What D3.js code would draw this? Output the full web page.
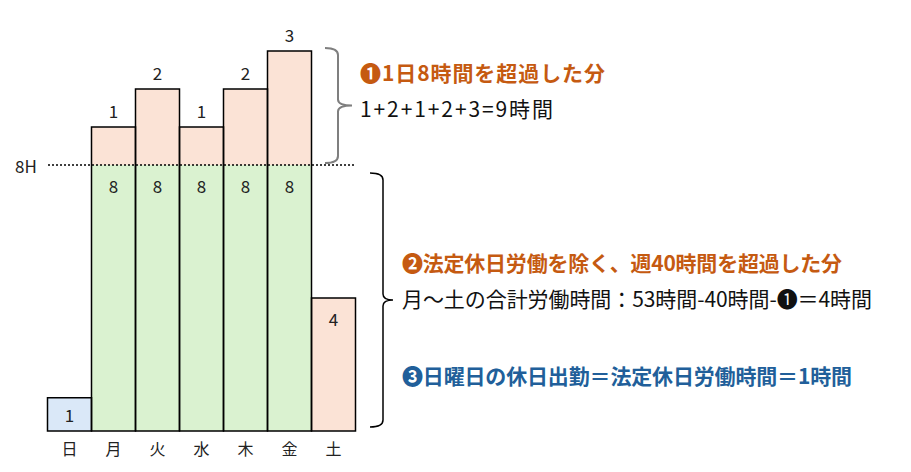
<!DOCTYPE html>
<html>
<head>
<meta charset="utf-8">
<script src="https://cdn.jsdelivr.net/npm/d3@7"></script>
<style>
  body { margin: 0; background: #fff; }
  svg { display: block; font-family: "Noto Sans CJK JP", "Noto Sans", sans-serif; }
</style>
</head>
<body>
<div id="chart"></div>
<script>
// days and hours per segment
var days = ["日", "月", "火", "水", "木", "金", "土"];
var holidayHours = [1, 0, 0, 0, 0, 0, 0];   // 法定休日労働
var regularHours = [0, 8, 8, 8, 8, 8, 0];   // 所定内 8時間
var overtimeHours = [0, 1, 2, 1, 2, 3, 4];  // 超過分
var dailyLimit = 8;
var limitLabel = "8H";

var notes1 = ["❶1日8時間を超過した分", "1+2+1+2+3=9時間"];
var notes2 = ["❷法定休日労働を除く、週40時間を超過した分", "月〜土の合計労働時間：53時間-40時間-❶＝4時間"];
var notes3 = "❸日曜日の休日出勤＝法定休日労働時間＝1時間";

var width = 911, height = 472;

var svg = d3.select("#chart").append("svg")
    .attr("width", width)
    .attr("height", height);

// x: one band per day, no gaps
var x = d3.scaleBand()
    .domain(days)
    .range([47.5, 355.5])
    .padding(0);

// y is drawn as an illustration, the part above 8H is stretched a bit
var y = d3.scaleLinear()
    .domain([0, dailyLimit, 11])
    .range([431, 165, 51]);

var table = days.map(function(d, i) {
    return { day: d, holiday: holidayHours[i], regular: regularHours[i], overtime: overtimeHours[i] };
});

var keys = ["holiday", "regular", "overtime"];
var colors = { holiday: "#dae8f8", regular: "#daf2d0", overtime: "#fbe3d6" };

var stack = d3.stack().keys(keys);
var series = stack(table);

// filled segments
var layer = svg.append("g").selectAll("g")
    .data(series)
    .enter().append("g")
    .attr("fill", function(s) { return colors[s.key]; });

layer.selectAll("rect")
    .data(function(s) { return s.map(function(p) { p.key = s.key; return p; }); })
    .enter().append("rect")
    .filter(function(p) { return p[1] > p[0]; })
    .attr("x", function(p) { return x(p.data.day); })
    .attr("width", x.bandwidth())
    .attr("y", function(p) { return y(p[1]); })
    .attr("height", function(p) { return y(p[0]) - y(p[1]); });

// outline around each whole day bar
svg.append("g").selectAll("rect")
    .data(table)
    .enter().append("rect")
    .attr("x", function(d) { return x(d.day); })
    .attr("width", x.bandwidth())
    .attr("y", function(d) { return y(d.holiday + d.regular + d.overtime); })
    .attr("height", function(d) { return y(0) - y(d.holiday + d.regular + d.overtime); })
    .attr("fill", "none")
    .attr("stroke", "#000")
    .attr("stroke-width", 1.5);

// dotted 8H line
svg.append("line")
    .attr("x1", 48)
    .attr("x2", 355)
    .attr("y1", y(dailyLimit))
    .attr("y2", y(dailyLimit))
    .attr("stroke", "#000")
    .attr("stroke-width", 1.5)
    .attr("stroke-dasharray", "2,2");

svg.append("text")
    .attr("x", 26)
    .attr("y", y(dailyLimit))
    .attr("text-anchor", "middle")
    .attr("dominant-baseline", "central")
    .attr("font-size", 17)
    .attr("fill", "#222")
    .text(limitLabel);

// value labels
var labels = [];
series.forEach(function(s) {
    s.forEach(function(p) {
        if (p[1] <= p[0]) return;
        var v = p[1] - p[0];
        var cx = x(p.data.day) + x.bandwidth() / 2;
        var cy;
        if (s.key === "overtime" && p[0] > 0) cy = y(p[1]) - 17;       // above the bar
        else if (s.key === "holiday") cy = (y(p[0]) + y(p[1])) / 2;    // centred
        else cy = y(p[1]) + 20;                                        // just inside the top
        labels.push({ x: cx, y: cy, v: v });
    });
});

svg.append("g").selectAll("text")
    .data(labels)
    .enter().append("text")
    .attr("x", function(d) { return d.x; })
    .attr("y", function(d) { return d.y; })
    .attr("text-anchor", "middle")
    .attr("dominant-baseline", "central")
    .attr("font-size", 17)
    .attr("fill", "#222")
    .text(function(d) { return d.v; });

// day axis
var xAxis = svg.append("g")
    .attr("transform", "translate(0," + y(0) + ")")
    .call(d3.axisBottom(x).tickSize(0).tickPadding(13));
xAxis.select(".domain").remove();
xAxis.selectAll("text")
    .attr("font-size", 16)
    .attr("font-family", "\"Noto Sans CJK JP\", sans-serif")
    .attr("fill", "#222");

// curly braces
function brace(xs, top, bottom, width, tip) {
    var mid = (top + bottom) / 2;
    var xv = xs + width;
    return "M" + xs + "," + top +
        " Q" + xv + "," + top + " " + xv + "," + (top + 7) +
        " L" + xv + "," + (mid - 6) +
        " Q" + xv + "," + mid + " " + (xv + tip) + "," + mid +
        " Q" + xv + "," + mid + " " + xv + "," + (mid + 6) +
        " L" + xv + "," + (bottom - 7) +
        " Q" + xv + "," + bottom + " " + xs + "," + bottom;
}

var top1 = y(d3.max(table, function(d) { return d.regular + d.overtime; })) - 3;
svg.append("path")
    .attr("d", brace(325, top1, y(dailyLimit) - 2, 13, 14))
    .attr("fill", "none")
    .attr("stroke", "#7f7f7f")
    .attr("stroke-width", 2);

svg.append("path")
    .attr("d", brace(370, y(dailyLimit) + 8, y(0) - 4, 13, 10))
    .attr("fill", "none")
    .attr("stroke", "#000")
    .attr("stroke-width", 1.5);

// notes (widths stretched to the original layout)
var orange = "#c55a11", blue = "#215f9a";

function note(tx, ty, str, size, bold, fill, len) {
    svg.append("text")
        .attr("x", tx).attr("y", ty)
        .attr("dominant-baseline", "central")
        .attr("font-size", size)
        .attr("font-weight", bold ? "bold" : "normal")
        .attr("fill", fill)
        .attr("textLength", len)
        .attr("lengthAdjust", "spacing")
        .text(str);
}

note(360, 72, notes1[0], 21, true, orange, 245);
note(360, 108, notes1[1], 21, false, "#111", 193);
note(402, 262, notes2[0], 21, true, orange, 440);
note(402, 298, notes2[1], 21, false, "#111", 470);
note(402, 375, notes3, 21, true, blue, 450);
</script>
</body>
</html>
